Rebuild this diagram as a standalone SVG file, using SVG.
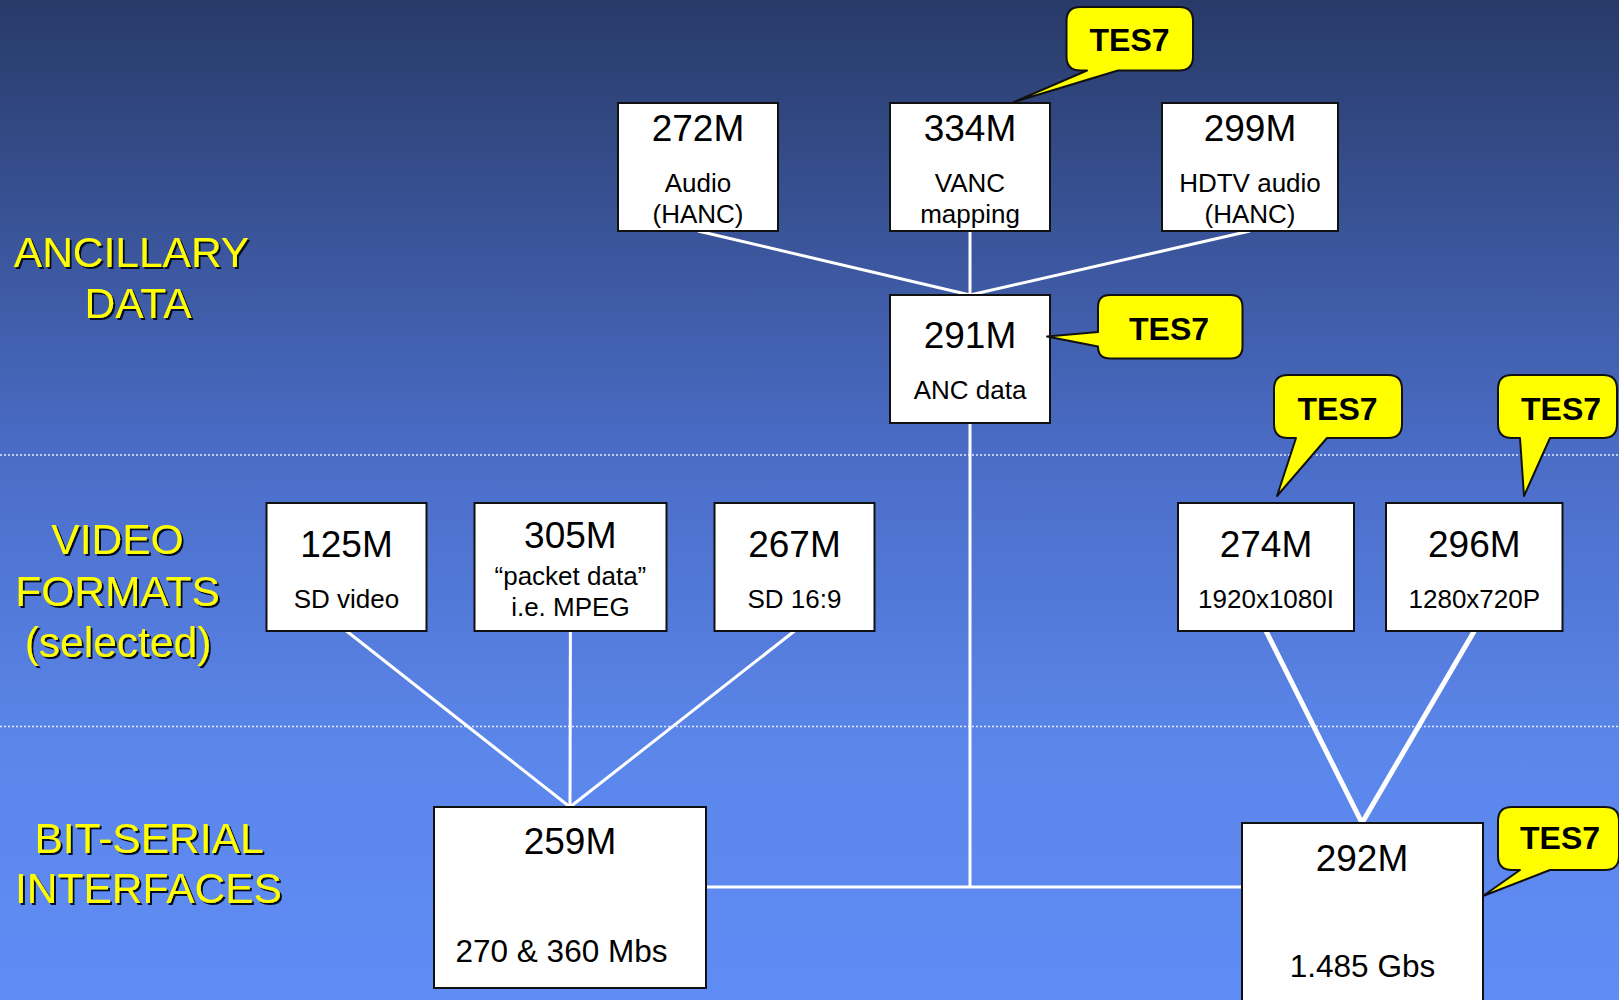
<svg xmlns="http://www.w3.org/2000/svg" width="1619" height="1000" viewBox="0 0 1619 1000">
<defs>
<linearGradient id="bg" x1="0" y1="0" x2="0" y2="1">
<stop offset="0" stop-color="#283a68"/>
<stop offset="0.45" stop-color="#4a6cc6"/>
<stop offset="0.75" stop-color="#5b86ea"/>
<stop offset="1" stop-color="#5f8cf5"/>
</linearGradient>
<filter id="sh" x="-5%" y="-5%" width="115%" height="130%">
<feDropShadow dx="2" dy="2" stdDeviation="0.5" flood-color="#050820" flood-opacity="1"/>
</filter>
<style>
.lbl{font-family:"Liberation Sans",Arial,sans-serif;font-size:42.5px;fill:#ffff00;text-anchor:middle;filter:url(#sh)}
.box{fill:#ffffff;stroke:#111111;stroke-width:2}
.t{font-family:"Liberation Sans",Arial,sans-serif;fill:#000000;text-anchor:middle}
.m{font-size:37px}
.s{font-size:26px}
.b{font-size:31.5px}
.co{fill:#ffff00;stroke:#111111;stroke-width:2;stroke-linejoin:round}
.ct{font-family:"Liberation Sans",Arial,sans-serif;font-weight:bold;font-size:32px;fill:#000000;text-anchor:middle}
.ln{stroke:#ffffff;stroke-width:3;fill:none}
.lnb{stroke:#ffffff;stroke-width:5;fill:none}
.dot{stroke:#e6ecff;stroke-width:1.5;stroke-dasharray:2 2}
</style>
</defs>
<rect x="0" y="0" width="1619" height="1000" fill="url(#bg)"/>
<line class="dot" x1="0" y1="455" x2="1619" y2="455"/>
<line class="dot" x1="0" y1="726.5" x2="1619" y2="726.5"/>

<g id="labels">
<text class="lbl" x="131.5" y="266.5">ANCILLARY</text>
<text class="lbl" x="138" y="318">DATA</text>
<text class="lbl" x="117.5" y="554">VIDEO</text>
<text class="lbl" x="117.5" y="605.5">FORMATS</text>
<text class="lbl" x="118" y="656.5">(selected)</text>
<text class="lbl" x="149" y="852.5">BIT-SERIAL</text>
<text class="lbl" x="148.5" y="902.5">INTERFACES</text>
</g>

<g id="connectors">
<line class="ln" x1="698" y1="231" x2="970" y2="295"/>
<line class="ln" x1="970" y1="231" x2="970" y2="295"/>
<line class="ln" x1="1250" y1="231" x2="970" y2="295"/>
<line class="ln" x1="970" y1="423" x2="970" y2="887"/>
<line class="ln" x1="706" y1="887" x2="1242" y2="887"/>
<line class="ln" x1="346.5" y1="631" x2="570" y2="807"/>
<line class="ln" x1="570.4" y1="631" x2="570" y2="807"/>
<line class="ln" x1="794.5" y1="631" x2="570" y2="807"/>
<line class="lnb" x1="1266" y1="631" x2="1362" y2="823"/>
<line class="lnb" x1="1474.3" y1="631" x2="1362" y2="823"/>
</g>

<g id="n272M">
<rect class="box" x="618" y="103" width="160" height="128"/>
<text class="t m" x="698" y="140.5">272M</text>
<text class="t s" x="698" y="191.5">Audio</text>
<text class="t s" x="698" y="222.5">(HANC)</text>
</g>
<g id="n334M">
<rect class="box" x="890" y="103" width="160" height="128"/>
<text class="t m" x="970" y="140.5">334M</text>
<text class="t s" x="970" y="191.5">VANC</text>
<text class="t s" x="970" y="222.5">mapping</text>
</g>
<g id="n299M">
<rect class="box" x="1162" y="103" width="176" height="128"/>
<text class="t m" x="1250" y="140.5">299M</text>
<text class="t s" x="1250" y="191.5">HDTV audio</text>
<text class="t s" x="1250" y="222.5">(HANC)</text>
</g>
<g id="n291M">
<rect class="box" x="890" y="295" width="160" height="128"/>
<text class="t m" x="970" y="348">291M</text>
<text class="t s" x="970" y="399">ANC data</text>
</g>
<g id="n125M">
<rect class="box" x="266.5" y="503" width="160" height="128"/>
<text class="t m" x="346.5" y="556.5">125M</text>
<text class="t s" x="346.5" y="608">SD video</text>
</g>
<g id="n305M">
<rect class="box" x="474.5" y="503" width="192" height="128"/>
<text class="t m" x="570.4" y="548">305M</text>
<text class="t s" x="570.4" y="584.5">“packet data”</text>
<text class="t s" x="570.4" y="616">i.e. MPEG</text>
</g>
<g id="n267M">
<rect class="box" x="714.5" y="503" width="160" height="128"/>
<text class="t m" x="794.5" y="556.5">267M</text>
<text class="t s" x="794.5" y="608">SD 16:9</text>
</g>
<g id="n274M">
<rect class="box" x="1178" y="503" width="176" height="128"/>
<text class="t m" x="1266" y="556.5">274M</text>
<text class="t s" x="1266" y="608">1920x1080I</text>
</g>
<g id="n296M">
<rect class="box" x="1386" y="503" width="176.5" height="128"/>
<text class="t m" x="1474.3" y="556.5">296M</text>
<text class="t s" x="1474.3" y="608">1280x720P</text>
</g>
<g id="n259M">
<rect class="box" x="434" y="807" width="272" height="181"/>
<text class="t m" x="570" y="854">259M</text>
<text class="t b" x="561.5" y="961.5">270 &amp; 360 Mbs</text>
</g>
<g id="n292M">
<rect class="box" x="1242" y="823" width="241" height="190"/>
<text class="t m" x="1362" y="870.5">292M</text>
<text class="t b" x="1362.5" y="976.5">1.485 Gbs</text>
</g>

<g id="callout334">
<path class="co" d="M1080.5 7 H1179 Q1193 7 1193 21 V56.5 Q1193 70.5 1179 70.5 H1118 L1014 102 L1087 70.5 H1080.5 Q1066.5 70.5 1066.5 56.5 V21 Q1066.5 7 1080.5 7 Z"/>
<text class="ct" x="1129.5" y="51">TES7</text>
</g>
<g id="callout291">
<path class="co" d="M1110 295 H1230.5 Q1242.5 295 1242.5 307 V346.5 Q1242.5 358.5 1230.5 358.5 H1110 Q1098 358.5 1098 346.5 L1047 336.5 L1098 332 V307 Q1098 295 1110 295 Z"/>
<text class="ct" x="1169" y="340">TES7</text>
</g>
<g id="callout274">
<path class="co" d="M1288 375 H1388 Q1402 375 1402 389 V424 Q1402 438 1388 438 H1327 L1277 496 L1296 438 H1288 Q1274 438 1274 424 V389 Q1274 375 1288 375 Z"/>
<text class="ct" x="1337.5" y="420">TES7</text>
</g>
<g id="callout296">
<path class="co" d="M1512 375 H1603 Q1617 375 1617 389 V424 Q1617 438 1603 438 H1550 L1524 496 L1520 438 H1512 Q1498 438 1498 424 V389 Q1498 375 1512 375 Z"/>
<text class="ct" x="1561" y="420">TES7</text>
</g>
<g id="callout292">
<path class="co" d="M1512 807 H1605 Q1619 807 1619 821 V856 Q1619 870 1605 870 H1550 L1483 896 L1520 870 H1512 Q1498 870 1498 856 V821 Q1498 807 1512 807 Z"/>
<text class="ct" x="1560" y="849">TES7</text>
</g>
</svg>
